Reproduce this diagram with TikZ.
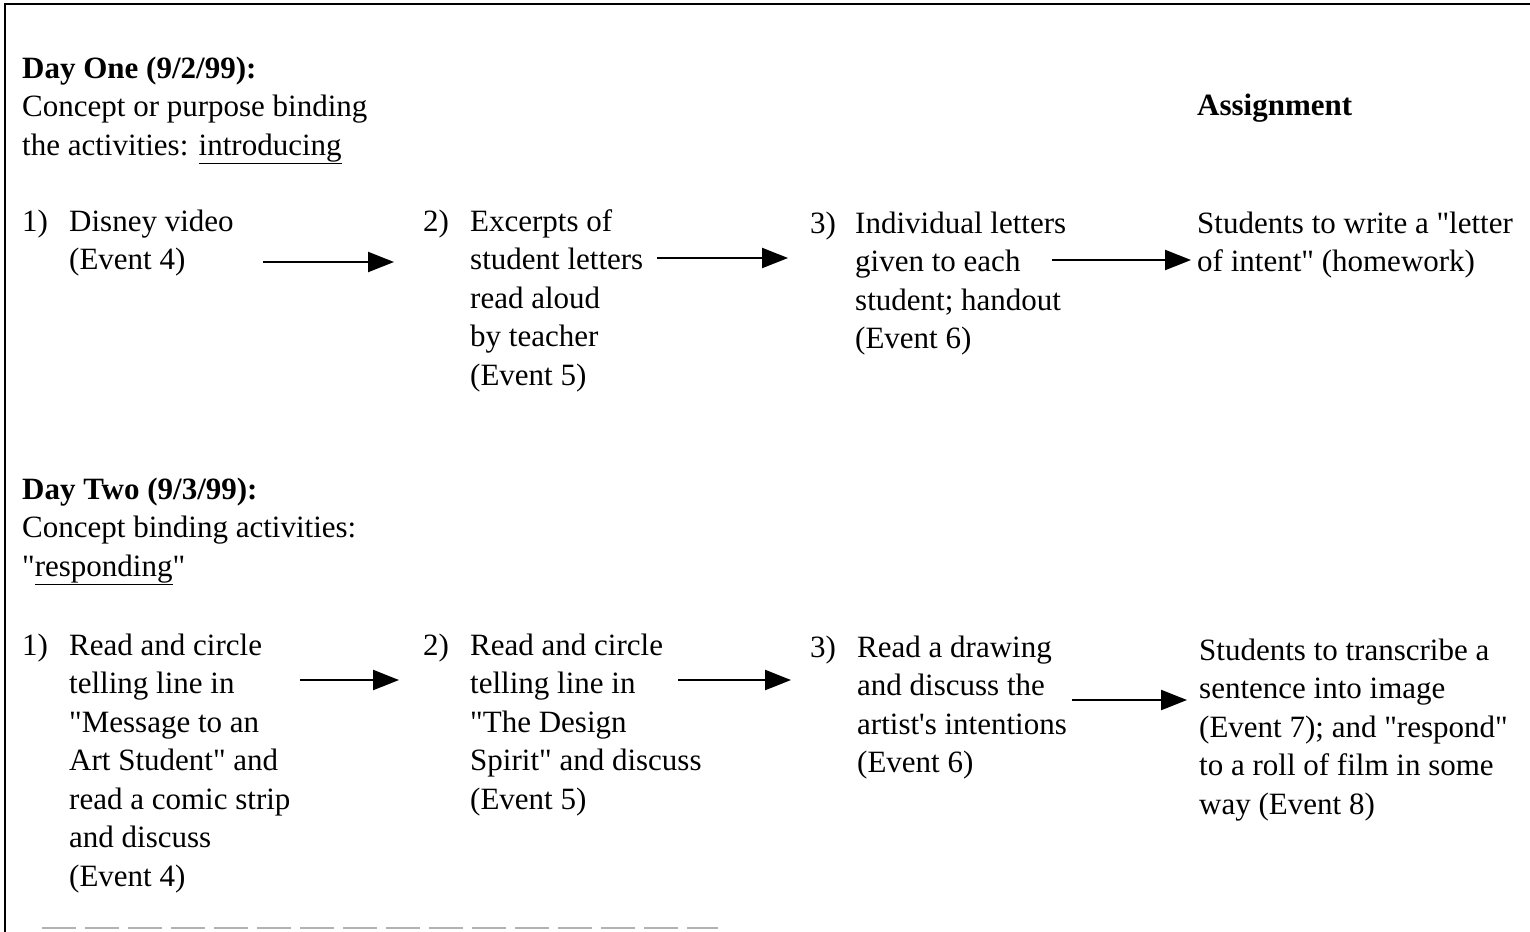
\documentclass[tikz,border=0pt]{standalone}
\usepackage{fontspec}
\setmainfont{Liberation Serif}[Ligatures=TeXOff]
\usetikzlibrary{arrows.meta}
\tikzset{
  txt/.style={anchor=north west, inner sep=0pt, align=left,
              font=\fontsize{31}{38.5}\selectfont},
  flow/.style={line width=2.4pt, -{Triangle[length=26pt,width=20pt]}},
  frame/.style={line width=2.2pt, line cap=rect},
}
\begin{document}
\begin{tikzpicture}[x=1pt,y=-1pt]
\useasboundingbox (0,0) rectangle (1530,931);
% open frame: top rule, left rule, broken bottom rule
\draw[frame] (1530,4) -- (5,4) -- (5,931);
\draw[gray!60, line width=1.6pt, dash pattern=on 34pt off 9pt] (42,928) -- (718,928);

% ---------- Day one ----------
\node[txt] (d1head) at (22,51) {\strut\textbf{Day One (9/2/99):}\\
  Concept or purpose binding\\ the activities: \underline{introducing}};
\node[txt] (asghead) at (1197,88) {\strut\textbf{Assignment}};

\node[txt] (d1n1) at (22,204) {\strut 1)};
\node[txt] (d1s1) at (69,204) {\strut Disney video\\ (Event 4)};
\node[txt] (d1n2) at (423,204) {\strut 2)};
\node[txt] (d1s2) at (470,204) {\strut Excerpts of\\ student letters\\ read aloud\\ by teacher\\ (Event 5)};
\node[txt] (d1n3) at (810,206) {\strut 3)};
\node[txt] (d1s3) at (855,206) {\strut Individual letters\\ given to each\\ student; handout\\ (Event 6)};
\node[txt] (d1asg) at (1197,206) {\strut Students to write a "letter\\ of intent" (homework)};

\coordinate (a1s) at (263,262); \coordinate (a1e) at (394,262);
\coordinate (a2s) at (657,258); \coordinate (a2e) at (788,258);
\coordinate (a3s) at (1052,260); \coordinate (a3e) at (1191,260);
\draw[flow] (a1s) -- (a1e);
\draw[flow] (a2s) -- (a2e);
\draw[flow] (a3s) -- (a3e);

% ---------- Day two ----------
\node[txt] (d2head) at (22,472) {\strut\textbf{Day Two (9/3/99):}\\
  Concept binding activities:\\ "\underline{responding}"};

\node[txt] (d2n1) at (22,628) {\strut 1)};
\node[txt] (d2s1) at (69,628) {\strut Read and circle\\ telling line in\\ "Message to an\\ Art Student" and\\ read a comic strip\\ and discuss\\ (Event 4)};
\node[txt] (d2n2) at (423,628) {\strut 2)};
\node[txt] (d2s2) at (470,628) {\strut Read and circle\\ telling line in\\ "The Design\\ Spirit" and discuss\\ (Event 5)};
\node[txt] (d2n3) at (810,630) {\strut 3)};
\node[txt] (d2s3) at (857,630) {\strut Read a drawing\\ and discuss the\\ artist's intentions\\ (Event 6)};
\node[txt] (d2asg) at (1199,633) {\strut Students to transcribe a\\ sentence into image\\ (Event 7); and "respond"\\ to a roll of film in some\\ way (Event 8)};

\coordinate (b1s) at (300,680); \coordinate (b1e) at (399,680);
\coordinate (b2s) at (678,680); \coordinate (b2e) at (791,680);
\coordinate (b3s) at (1072,700); \coordinate (b3e) at (1187,700);
\draw[flow] (b1s) -- (b1e);
\draw[flow] (b2s) -- (b2e);
\draw[flow] (b3s) -- (b3e);
\end{tikzpicture}
\end{document}
